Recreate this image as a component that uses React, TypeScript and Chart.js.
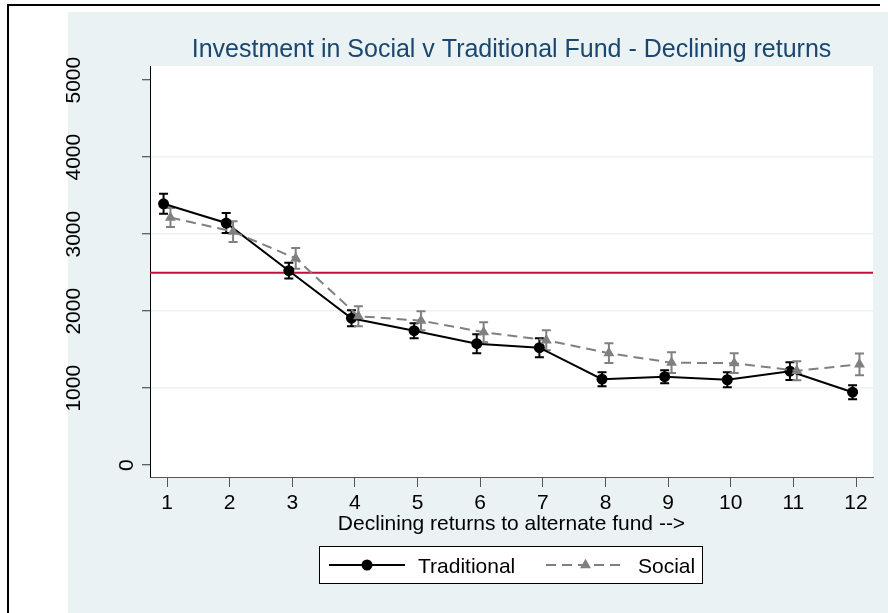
import { useEffect, useRef } from "react";
import { Chart, registerables } from "chart.js";

Chart.register(...registerables);

// ---- data ----
const X_CATEGORIES = [1, 2, 3, 4, 5, 6, 7, 8, 9, 10, 11, 12];
const TRADITIONAL = [3395, 3145, 2526, 1909, 1747, 1578, 1526, 1117, 1149, 1110, 1221, 948];
const TRADITIONAL_ERR = [130, 130, 103, 103, 97, 123, 123, 90, 84, 97, 116, 90];
const SOCIAL = [3217, 3033, 2686, 1935, 1877, 1727, 1623, 1455, 1331, 1325, 1227, 1310];
const SOCIAL_ERR = [123, 135, 135, 129, 123, 129, 129, 129, 135, 129, 123, 142];
const Y_TICKS = [0, 1000, 2000, 3000, 4000, 5000];
const REFERENCE_LINE = 2500;
const SERIES_LABELS = ["Traditional", "Social"];
const TITLE = "Investment in Social v Traditional Fund - Declining returns";
const X_TITLE = "Declining returns to alternate fund -->";
const JITTER = 0.055;

const FONT = "'Liberation Sans', Arial, Helvetica, sans-serif";
const BG = "#EAF2F3";

function drawMarker(ctx: CanvasRenderingContext2D, style: string, x: number, y: number, r: number, color: string) {
  ctx.save();
  ctx.fillStyle = color;
  ctx.beginPath();
  if (style === "triangle") {
    let rad = 0;
    ctx.moveTo(x + Math.sin(rad) * r, y - Math.cos(rad) * r);
    rad += (2 * Math.PI) / 3;
    ctx.lineTo(x + Math.sin(rad) * r, y - Math.cos(rad) * r);
    rad += (2 * Math.PI) / 3;
    ctx.lineTo(x + Math.sin(rad) * r, y - Math.cos(rad) * r);
    ctx.closePath();
  } else {
    ctx.arc(x, y, r, 0, Math.PI * 2);
  }
  ctx.fill();
  ctx.restore();
}

const backgroundPlugin = {
  id: "stataBackground",
  beforeDraw(chart: any) {
    const { ctx, width, height, chartArea } = chart;
    ctx.save();
    ctx.fillStyle = "#ffffff";
    ctx.fillRect(0, 0, width, height);
    ctx.fillStyle = BG;
    ctx.fillRect(68, 12, width - 68, height - 12);
    ctx.fillStyle = "#000000";
    ctx.fillRect(7, 4, 873, 2);
    ctx.fillRect(7, 4, 2, height - 4);
    ctx.fillStyle = "#ffffff";
    ctx.fillRect(chartArea.left, chartArea.top, chartArea.right - chartArea.left, chartArea.bottom - chartArea.top);
    ctx.restore();
  },
};

const refLineAndErrorPlugin = {
  id: "refLineAndErrors",
  beforeDatasetsDraw(chart: any) {
    const { ctx, chartArea, scales } = chart;
    const yScale = scales.y;
    ctx.save();
    const yr = yScale.getPixelForValue(REFERENCE_LINE);
    ctx.strokeStyle = "#C10E3A";
    ctx.lineWidth = 2;
    ctx.beginPath();
    ctx.moveTo(chartArea.left, yr);
    ctx.lineTo(chartArea.right, yr);
    ctx.stroke();

    const errs = [TRADITIONAL_ERR, SOCIAL_ERR];
    const vals = [TRADITIONAL, SOCIAL];
    chart.data.datasets.forEach((ds: any, di: number) => {
      const meta = chart.getDatasetMeta(di);
      ctx.strokeStyle = ds.borderColor;
      ctx.lineWidth = 2;
      ctx.setLineDash([]);
      meta.data.forEach((pt: any, i: number) => {
        const x = pt.x;
        const yTop = yScale.getPixelForValue(vals[di][i] + errs[di][i]);
        const yBot = yScale.getPixelForValue(vals[di][i] - errs[di][i]);
        const cap = 4.5;
        ctx.beginPath();
        ctx.moveTo(x, yTop);
        ctx.lineTo(x, yBot);
        ctx.moveTo(x - cap, yTop);
        ctx.lineTo(x + cap, yTop);
        ctx.moveTo(x - cap, yBot);
        ctx.lineTo(x + cap, yBot);
        ctx.stroke();
      });
    });
    ctx.restore();
  },
};

const textPlugin = {
  id: "stataText",
  afterDraw(chart: any) {
    const { ctx, chartArea, scales } = chart;
    const cx = (chartArea.left + chartArea.right) / 2;
    ctx.save();
    // title
    ctx.fillStyle = "#1A476F";
    ctx.font = `25px ${FONT}`;
    ctx.textAlign = "center";
    ctx.textBaseline = "alphabetic";
    ctx.fillText(TITLE, cx, 57);
    // x axis title
    ctx.fillStyle = "#000000";
    ctx.font = `21px ${FONT}`;
    ctx.fillText(X_TITLE, cx, 530);
    // y tick labels (rotated)
    Y_TICKS.forEach((v) => {
      const label = String(v);
      const w = ctx.measureText(label).width;
      const bx = 150.7 - 1.514 * w;
      const y = scales.y.getPixelForValue(v);
      ctx.save();
      ctx.translate(bx, y);
      ctx.rotate(-Math.PI / 2);
      ctx.textAlign = "center";
      ctx.textBaseline = "alphabetic";
      ctx.fillText(label, 0, 0);
      ctx.restore();
    });
    ctx.restore();
  },
};

const legendPlugin = {
  id: "stataLegend",
  afterDraw(chart: any) {
    const { ctx } = chart;
    const ds = chart.data.datasets;
    ctx.save();
    const bx = 319, by = 546, bw = 384, bh = 38;
    ctx.fillStyle = "#ffffff";
    ctx.fillRect(bx, by, bw, bh);
    ctx.strokeStyle = "#000000";
    ctx.lineWidth = 1;
    ctx.strokeRect(bx + 0.5, by + 0.5, bw - 1, bh - 1);
    const cy = by + bh / 2;
    const items = [
      { x0: 329, x1: 405, tx: 418 },
      { x0: 546, x1: 625, tx: 638 },
    ];
    items.forEach((it, i) => {
      const d = ds[i];
      ctx.strokeStyle = d.borderColor;
      ctx.lineWidth = 2;
      ctx.setLineDash(d.borderDash || []);
      ctx.beginPath();
      ctx.moveTo(it.x0, cy);
      ctx.lineTo(it.x1, cy);
      ctx.stroke();
      ctx.setLineDash([]);
      drawMarker(ctx, d.pointStyle, (it.x0 + it.x1) / 2, cy, d.pointRadius, d.pointBackgroundColor);
      ctx.fillStyle = "#000000";
      ctx.font = `21px ${FONT}`;
      ctx.textAlign = "left";
      ctx.textBaseline = "alphabetic";
      ctx.fillText(d.label, it.tx, cy + 7.5);
    });
    ctx.restore();
  },
};

export default function App() {
  const canvasRef = useRef<HTMLCanvasElement | null>(null);

  useEffect(() => {
    const canvas = canvasRef.current;
    if (!canvas) return;
    const chart = new Chart(canvas, {
      type: "line",
      data: {
        datasets: [
          {
            label: SERIES_LABELS[0],
            data: X_CATEGORIES.map((x, i) => ({ x: x - JITTER, y: TRADITIONAL[i] })),
            borderColor: "#000000",
            backgroundColor: "#000000",
            pointBackgroundColor: "#000000",
            borderWidth: 2,
            pointStyle: "circle",
            pointRadius: 5.5,
            pointBorderWidth: 0,
            tension: 0,
            order: 2,
          } as any,
          {
            label: SERIES_LABELS[1],
            data: X_CATEGORIES.map((x, i) => ({ x: x + JITTER, y: SOCIAL[i] })),
            borderColor: "#808080",
            backgroundColor: "#808080",
            pointBackgroundColor: "#808080",
            borderWidth: 2,
            borderDash: [10, 6],
            pointStyle: "triangle",
            pointRadius: 6.3,
            pointBorderWidth: 0,
            tension: 0,
            order: 1,
          } as any,
        ],
      },
      options: {
        animation: false,
        responsive: false,
        events: [],
        layout: { padding: { left: 0, right: 15, top: 66, bottom: 0 } },
        plugins: {
          legend: { display: false },
          title: { display: false },
          tooltip: { enabled: false },
        },
        scales: {
          x: {
            type: "linear",
            min: 0.7286,
            max: 12.271,
            afterBuildTicks: (s: any) => {
              s.ticks = X_CATEGORIES.map((v) => ({ value: v }));
            },
            afterFit: (s: any) => {
              s.height = 136;
            },
            grid: {
              drawOnChartArea: false,
              drawTicks: true,
              tickLength: 10,
              tickColor: "#555555",
              tickWidth: 1,
            },
            border: { display: true, color: "#555555", width: 1 },
            ticks: {
              autoSkip: false,
              maxRotation: 0,
              minRotation: 0,
              padding: 4,
              color: "#000000",
              font: { family: FONT, size: 21 },
              callback: (v: any) => String(v),
            },
          },
          y: {
            type: "linear",
            min: -153,
            max: 5184,
            afterBuildTicks: (s: any) => {
              s.ticks = Y_TICKS.map((v) => ({ value: v }));
            },
            afterFit: (s: any) => {
              s.width = 150;
            },
            ticks: { display: false },
            grid: {
              color: (c: any) =>
                c.tick && (c.tick.value === Y_TICKS[0] || c.tick.value === Y_TICKS[Y_TICKS.length - 1])
                  ? "rgba(0,0,0,0)"
                  : BG,
              lineWidth: 1.5,
              drawTicks: true,
              tickLength: 8,
              tickColor: "#333333",
              tickWidth: 1,
            },
            border: { display: true, color: "#000000", width: 1 },
          },
        },
      },
      plugins: [backgroundPlugin, refLineAndErrorPlugin, textPlugin, legendPlugin],
    });
    return () => chart.destroy();
  }, []);

  return (
    <div style={{ position: "fixed", left: 0, top: 0, width: 888, height: 613 }}>
      <canvas ref={canvasRef} width={888} height={613} style={{ width: 888, height: 613, display: "block" }} />
    </div>
  );
}
